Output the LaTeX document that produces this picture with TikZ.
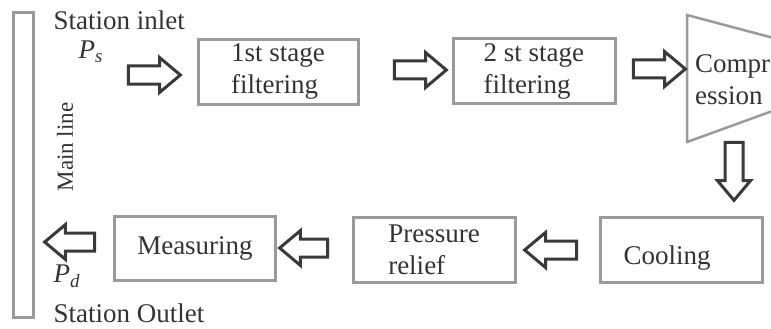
\documentclass[tikz,border=0pt]{standalone}
\usepackage{fontspec}
\setmainfont{Liberation Serif}
\usetikzlibrary{shapes.arrows,positioning}

\definecolor{boxgray}{HTML}{9A9A9A}
\definecolor{arrgray}{HTML}{3A3A3A}
\definecolor{txtgray}{HTML}{333333}

\begin{document}
\begin{tikzpicture}[x=1pt, y=-1pt,
    every node/.style={font=\fontsize{27}{32}\selectfont, text=txtgray},
    stagebox/.style={draw=boxgray, line width=3pt, minimum width=160pt, minimum height=65pt, align=left, inner sep=0pt},
    flowarrow/.style={single arrow, draw=arrgray, fill=white, line width=3pt, inner sep=0pt, inner ysep=7.5pt,
        single arrow head extend=8.5pt, single arrow tip angle=80, minimum height=52pt}]
    \useasboundingbox (0,0) rectangle (771,329);
    \clip (0,0) rectangle (771,329);

    % main line
    \draw[boxgray, line width=3pt] (13,13) rectangle (33,317);
    \node[rotate=90, font=\fontsize{23}{28}\selectfont] (main) at (65,147) {Main line};
    \node[anchor=west] (inlet) at (50,20) {Station inlet};
    \node[anchor=west] (ps) at (75,52) {\textit{P}\textsubscript{\textit{s}}};
    \node[anchor=west] (pd) at (50,276) {\textit{P}\textsubscript{\textit{d}}};
    \node[anchor=west] (outlet) at (50,313) {Station Outlet};

    % stages
    \node[stagebox] (filt1) at (278,72) {1st stage\\filtering};
    \node[stagebox, minimum width=162pt] (filt2) at (534,71) {2 st stage\\filtering\hspace*{14pt}};
    \draw[boxgray, line width=2.5pt] (800,45) -- (687,15) -- (687,142) -- (800,101);
    \node[anchor=west, align=left, inner sep=0pt] (comp) at (695,80) {Compr\\ession};
    \node[stagebox, minimum width=162pt] (cool) at (681,250) {\hspace*{-28pt}\raisebox{-14pt}[0pt][0pt]{Cooling}};
    \node[stagebox, minimum width=162pt] (relief) at (434,250) {Pressure\\relief};
    \node[stagebox, minimum width=161pt, minimum height=64pt] (meas) at (195,248) {Measuring};

    % flow arrows
    \node[flowarrow] (in) at (149,75) {};
    \node[flowarrow] (a12) at (415,70) {};
    \node[flowarrow] (a2c) at (654,69) {};
    \node[flowarrow, shape border rotate=270, inner sep=7.5pt, minimum height=58pt, single arrow head extend=7.5pt] (acool) at (734,166) {};
    \node[flowarrow, shape border rotate=180] (acr) at (556,250) {};
    \node[flowarrow, shape border rotate=180, minimum height=48pt] (arm) at (309,248) {};
    \node[flowarrow, shape border rotate=180, minimum height=50pt] (out) at (75,242) {};
\end{tikzpicture}
\end{document}
